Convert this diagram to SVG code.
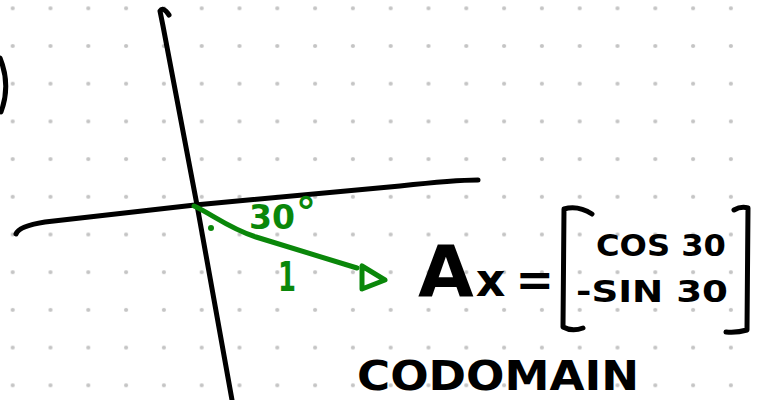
<svg xmlns="http://www.w3.org/2000/svg" width="758" height="400" viewBox="0 0 758 400">
<defs>
<pattern id="dots" patternUnits="userSpaceOnUse" x="-6.2" y="-10.55" width="37.8" height="37.7">
<circle cx="18.9" cy="18.85" r="2.1" fill="#c4c4c4"/>
</pattern>
<style>
.ink{fill:none;stroke:#000;stroke-width:5;stroke-linecap:round;stroke-linejoin:round}
.gr{fill:none;stroke:#0a870a;stroke-width:5;stroke-linecap:round;stroke-linejoin:round}
.t{font-family:"DejaVu Sans","Liberation Sans",sans-serif;font-weight:bold;fill:#000}
.tg{font-family:"DejaVu Sans","Liberation Sans",sans-serif;font-weight:bold;fill:#0a870a}
</style>
</defs>
<rect width="758" height="400" fill="#fff"/>
<rect width="758" height="400" fill="url(#dots)"/>
<g id="edge-mark"><path class="ink" d="M0,58 Q11,85 1,112"/></g>
<g id="axes">
<path id="y-axis" class="ink" d="M169,15 Q163,6 160,11 L163,26 L197,205 L232,400"/>
<path id="x-axis" class="ink" d="M16,234 Q19,226 45,222 L195,205 L400,186 Q455,180 478,180"/>
</g>
<g id="connectors">
<path id="vector" class="gr" d="M194,206 C212,214 228,228 256,237 L357,268"/>
<path id="arrowhead" class="gr" d="M362,266 L362,289 L385,280 Z" fill="#fff"/>
<circle cx="211" cy="228" r="3" fill="#0a870a"/>
</g>
<g id="angle-label"><text class="tg" x="249" y="229" font-size="34" textLength="46" lengthAdjust="spacingAndGlyphs">30</text><text class="tg" x="296" y="226" font-size="40">°</text></g>
<g id="length-label"><text class="tg" x="278" y="291" font-size="40" textLength="18" lengthAdjust="spacingAndGlyphs">1</text></g>
<g id="equation">
<text class="t" x="418" y="296"><tspan font-size="72">A</tspan><tspan font-size="46" dx="2">x</tspan><tspan font-size="46" dx="10">=</tspan></text>
<path class="ink" d="M592,214 Q578,205 564,209 L563,327 Q572,332 583,328"/>
<path class="ink" d="M734,210 Q741,206 748,208 L747,330 Q737,333 726,332"/>
<text class="t" x="596" y="256" font-size="30" textLength="130" lengthAdjust="spacingAndGlyphs">COS 30</text>
<text class="t" x="576" y="302" font-size="30" textLength="152" lengthAdjust="spacingAndGlyphs">-SIN 30</text>
</g>
<g id="codomain"><text class="t" x="357" y="390" font-size="40" textLength="282" lengthAdjust="spacingAndGlyphs">CODOMAIN</text></g>
</svg>
